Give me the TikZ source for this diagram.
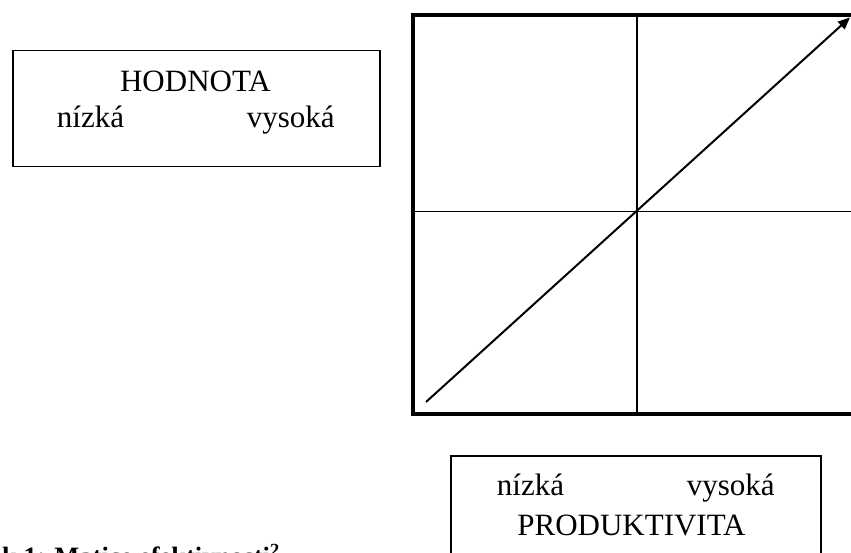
\documentclass[tikz,border=0pt]{standalone}
\usepackage{fontspec}
\setmainfont{Liberation Serif}
\usetikzlibrary{arrows.meta}
\begin{document}
\begin{tikzpicture}[x=1pt,y=-1pt,>={Triangle[length=12pt,width=10pt]},
  box/.style={draw,line width=1.6pt,inner sep=0pt},
  word/.style={anchor=base west,inner sep=0pt,font=\fontsize{31}{37}\selectfont},
  title/.style={anchor=base,inner sep=0pt,font=\fontsize{31}{37}\selectfont}]
 \useasboundingbox (0,0) rectangle (851,553);
 \clip (0,0) rectangle (851,553);
 % matrix frame
 \coordinate (tl) at (413,15.5);
 \coordinate (bl) at (413,413.5);
 \coordinate (tr) at (870,15.5);
 \coordinate (br) at (870,413.5);
 \draw[line width=4pt] (tr)--(tl)--(bl)--(br);
 \coordinate (mt) at (637,15.5);
 \coordinate (mb) at (637,413.5);
 \coordinate (ml) at (413,211.5);
 \coordinate (mr) at (870,211.5);
 \draw[line width=1.2pt] (mt)--(mb);
 \draw[line width=1.2pt] (ml)--(mr);
 \coordinate (lo) at (426,402);
 \coordinate (hi) at (850,17.5);
 \draw[->,line width=2pt] (lo)--(hi);
 % value box
 \node[box,minimum width=367pt,minimum height=116pt] (hbox) at (196.3,108.7) {};
 \node[title] (hname) at (195.5,91.7) {HODNOTA};
 \node[word] (hlow) at (56.7,128) {nízká};
 \node[word] (hhigh) at (246.7,128) {vysoká};
 % productivity box
 \node[box,minimum width=370pt,minimum height=150pt] (pbox) at (636,530.7) {};
 \node[word] (plow) at (496.7,495) {nízká};
 \node[word] (phigh) at (686.7,495) {vysoká};
 \node[title] (pname) at (631.5,535) {PRODUKTIVITA};
 % caption
 \node[anchor=base west,inner sep=0pt,font=\fontsize{26.5}{32}\selectfont\bfseries] (cap) at (2,565.5)
    {k 1: Matice efektivnosti\textsuperscript{2}};
\end{tikzpicture}
\end{document}
